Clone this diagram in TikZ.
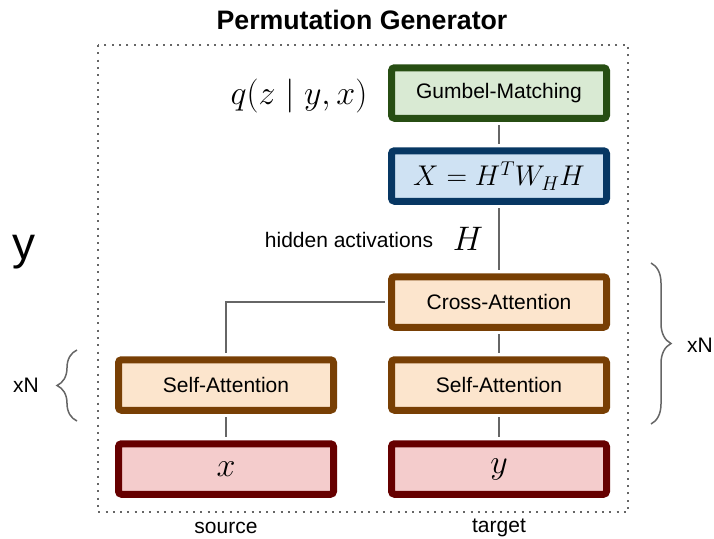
\RequirePackage{fix-cm}
\documentclass[tikz,border=0pt]{standalone}
\usepackage{fontspec}
\setmainfont{Liberation Sans}
\usetikzlibrary{decorations.pathreplacing}

\definecolor{gumbelline}{HTML}{274E13}
\definecolor{gumbelfill}{HTML}{D9EAD3}
\definecolor{bilinline}{HTML}{073763}
\definecolor{bilinfill}{HTML}{CFE2F3}
\definecolor{attnline}{HTML}{783F04}
\definecolor{attnfill}{HTML}{FCE5CD}
\definecolor{inputline}{HTML}{660000}
\definecolor{inputfill}{HTML}{F4CCCC}
\definecolor{wiregray}{HTML}{666666}

\begin{document}
\begin{tikzpicture}[x=1pt, y=-1pt,
    font=\fontsize{21}{25}\selectfont,
    box/.style={draw, line width=7pt, rounded corners=3pt, inner sep=0pt,
        minimum width=215pt, minimum height=50.5pt},
    gumbel/.style={box, draw=gumbelline, fill=gumbelfill},
    bilin/.style={box, draw=bilinline, fill=bilinfill},
    attn/.style={box, draw=attnline, fill=attnfill},
    inp/.style={box, draw=inputline, fill=inputfill},
    bigmath/.style={font=\fontsize{34}{38}\selectfont},
    wire/.style={draw=wiregray, line width=1.8pt, shorten <=3.5pt, shorten >=3.5pt},
    curly/.style={draw=wiregray, line width=1.5pt, decorate,
        decoration={brace, amplitude=20pt}}]
    \useasboundingbox (0,0) rectangle (714,538);

    % --- cornice e titolo ---
    \node[font=\bfseries\fontsize{26.7}{31}\selectfont] (title) at (362,20) {Permutation Generator};
    \draw[wiregray, line width=2pt, dash pattern=on 2pt off 5.3pt] (98,45) rectangle (628,512);

    % --- blocchi colonna destra (target) ---
    \node[gumbel] (gumbel) at (499,93) {Gumbel-Matching};
    \node[bilin, font=\fontsize{28.5}{33}\selectfont] (bilin) at (499,176) {$X = H^T W_H H$};
    \node[attn] (cross) at (499,302) {Cross-Attention};
    \node[attn] (selftgt) at (499,385) {Self-Attention};
    \node[inp, bigmath] (ynode) at (499,469) {$y$};

    % --- blocchi colonna sinistra (source) ---
    \node[attn] (selfsrc) at (226,385) {Self-Attention};
    \node[inp, bigmath] (xnode) at (226,469) {$x$};

    % etichette
    \node[bigmath] (qlabel) at (299,96) {$q(z \mid y, x)$};
    \node (hidden) at (349,240) {hidden activations};
    \node[bigmath] (hlabel) at (468,239) {$H$};
    \node (source) at (226,528) {source};
    \node (target) at (499,528) {target};
    \node[font=\fontsize{46}{50}\selectfont] (ybig) at (24,252) {y};

    % --- collegamenti ---
    \draw[wire] (gumbel) -- (bilin);
    \draw[wire] (bilin) -- (cross);
    \draw[wire] (cross) -- (selftgt);
    \draw[wire] (selftgt) -- (ynode);
    \draw[wire] (selfsrc) -- (xnode);
    \draw[wire] (cross.west) -| (selfsrc.north);

    % --- parentesi graffe (ripetizione xN) ---
    \coordinate (lbrace1) at (77,421);
    \coordinate (lbrace2) at (77,350);
    \coordinate (rbrace1) at (651,263);
    \coordinate (rbrace2) at (651,424);
    \draw[curly] (lbrace1) -- (lbrace2);
    \draw[curly] (rbrace1) -- (rbrace2);
    \node (leftrep) at (26,385) {xN};
    \node (rightrep) at (700,345) {xN};
\end{tikzpicture}
\end{document}
